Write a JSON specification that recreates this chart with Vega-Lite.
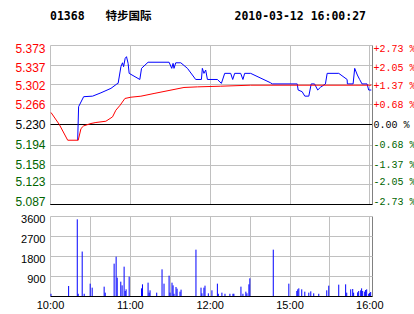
{
  "$schema": "https://vega.github.io/schema/vega-lite/v6.json",
  "padding": {"left": 14, "top": 10, "right": 0, "bottom": 0},
  "background": "white",
  "title": {
    "text": "01368\u00a0\u00a0\u00a0特步国际\u00a0\u00a0\u00a0\u00a0\u00a0\u00a0\u00a0\u00a0\u00a0\u00a0\u00a0\u00a02010-03-12\u00a016:00:27",
    "anchor": "start",
    "frame": "group",
    "font": "DejaVu Sans Mono, Noto Sans CJK SC",
    "fontSize": 11.5,
    "fontWeight": "bold",
    "color": "black",
    "offset": 20
  },
  "datasets": {
    "price": [
      {"m": 20.8, "p": 5.202}, {"m": 21.5, "p": 5.262}, {"m": 25.3, "p": 5.280}, {"m": 32, "p": 5.281},
      {"m": 38.3, "p": 5.287}, {"m": 45.8, "p": 5.295}, {"m": 50.3, "p": 5.303}, {"m": 51.2, "p": 5.304},
      {"m": 53.3, "p": 5.334}, {"m": 54.5, "p": 5.341}, {"m": 55.3, "p": 5.334}, {"m": 56.5, "p": 5.349},
      {"m": 57.5, "p": 5.352}, {"m": 58.7, "p": 5.340}, {"m": 59.5, "p": 5.322}, {"m": 67.5, "p": 5.311},
      {"m": 68.8, "p": 5.331}, {"m": 73.7, "p": 5.342}, {"m": 89.5, "p": 5.342}, {"m": 91.5, "p": 5.331},
      {"m": 92.5, "p": 5.340}, {"m": 93.2, "p": 5.331}, {"m": 94.5, "p": 5.341}, {"m": 98.3, "p": 5.341},
      {"m": 103.3, "p": 5.331}, {"m": 109.5, "p": 5.311}, {"m": 113.8, "p": 5.311}, {"m": 114.5, "p": 5.331},
      {"m": 115.7, "p": 5.322}, {"m": 117, "p": 5.328}, {"m": 118.3, "p": 5.311}, {"m": 125.8, "p": 5.311},
      {"m": 128.8, "p": 5.304}, {"m": 131.3, "p": 5.322}, {"m": 135.8, "p": 5.322}, {"m": 137.3, "p": 5.311},
      {"m": 138.8, "p": 5.322}, {"m": 143.3, "p": 5.322}, {"m": 145, "p": 5.311}, {"m": 146.3, "p": 5.322},
      {"m": 150.8, "p": 5.322}, {"m": 165.8, "p": 5.305}, {"m": 167, "p": 5.303}, {"m": 185.8, "p": 5.303},
      {"m": 186.5, "p": 5.292}, {"m": 189.5, "p": 5.289}, {"m": 191.5, "p": 5.281}, {"m": 194.5, "p": 5.281},
      {"m": 196.3, "p": 5.303}, {"m": 198.8, "p": 5.303}, {"m": 201.2, "p": 5.292}, {"m": 203.3, "p": 5.297},
      {"m": 207, "p": 5.303}, {"m": 208.3, "p": 5.322}, {"m": 217, "p": 5.322}, {"m": 223.3, "p": 5.311},
      {"m": 223.5, "p": 5.303}, {"m": 227.8, "p": 5.303}, {"m": 229, "p": 5.331}, {"m": 231, "p": 5.319},
      {"m": 232.7, "p": 5.311}, {"m": 234.5, "p": 5.303}, {"m": 238.3, "p": 5.303}, {"m": 239.5, "p": 5.292},
      {"m": 241.5, "p": 5.292}
    ],
    "avg": [
      {"m": 0.75, "a": 5.2516}, {"m": 7, "a": 5.230}, {"m": 13.3, "a": 5.2017}, {"m": 21.2, "a": 5.2017},
      {"m": 23.3, "a": 5.2228}, {"m": 25.3, "a": 5.2275}, {"m": 30.8, "a": 5.2318}, {"m": 34.5, "a": 5.2336},
      {"m": 42, "a": 5.2359}, {"m": 47, "a": 5.2437}, {"m": 49.5, "a": 5.2557}, {"m": 52.7, "a": 5.2647},
      {"m": 56.3, "a": 5.2768}, {"m": 60.8, "a": 5.2791}, {"m": 68.3, "a": 5.2809}, {"m": 78.2, "a": 5.2858},
      {"m": 93.2, "a": 5.293}, {"m": 100.7, "a": 5.2966}, {"m": 110.8, "a": 5.2977}, {"m": 128.3, "a": 5.2989},
      {"m": 150.8, "a": 5.3007}, {"m": 241.5, "a": 5.3007}
    ],
    "vol": [
      {"m": 0.75, "v": 100}, {"m": 14, "v": 450}, {"m": 20.5, "v": 3450}, {"m": 21.2, "v": 100},
      {"m": 24.2, "v": 2000}, {"m": 25.7, "v": 100}, {"m": 30.2, "v": 555}, {"m": 31.7, "v": 375},
      {"m": 40.7, "v": 420}, {"m": 41.5, "v": 150}, {"m": 48.2, "v": 1455}, {"m": 49.7, "v": 1770},
      {"m": 50.5, "v": 825}, {"m": 53.2, "v": 645}, {"m": 54.2, "v": 480}, {"m": 55.7, "v": 1320},
      {"m": 56.5, "v": 225}, {"m": 57.2, "v": 300}, {"m": 59.5, "v": 870}, {"m": 68.8, "v": 345},
      {"m": 69.5, "v": 525}, {"m": 73.7, "v": 600}, {"m": 74.5, "v": 150}, {"m": 75.2, "v": 255},
      {"m": 80.2, "v": 150}, {"m": 84.2, "v": 1200}, {"m": 85.7, "v": 555}, {"m": 89.5, "v": 915},
      {"m": 90.2, "v": 150}, {"m": 91.7, "v": 600}, {"m": 92.5, "v": 480}, {"m": 93.2, "v": 100},
      {"m": 94.7, "v": 405}, {"m": 95.5, "v": 330}, {"m": 97.7, "v": 195}, {"m": 98.5, "v": 285},
      {"m": 109.7, "v": 2085}, {"m": 113.5, "v": 375}, {"m": 114.2, "v": 120}, {"m": 115.7, "v": 375},
      {"m": 116.5, "v": 465}, {"m": 119, "v": 120}, {"m": 121.7, "v": 255}, {"m": 125.8, "v": 555},
      {"m": 126.5, "v": 100}, {"m": 129.2, "v": 150}, {"m": 131.5, "v": 100}, {"m": 135.2, "v": 100},
      {"m": 137.5, "v": 100}, {"m": 138.2, "v": 100}, {"m": 143.5, "v": 420}, {"m": 145, "v": 100},
      {"m": 147.2, "v": 195}, {"m": 148, "v": 120}, {"m": 149.5, "v": 525}, {"m": 150.2, "v": 795},
      {"m": 167.8, "v": 2085}, {"m": 179.5, "v": 555}, {"m": 185.5, "v": 225}, {"m": 186.2, "v": 300},
      {"m": 187, "v": 345}, {"m": 189.2, "v": 300}, {"m": 191.5, "v": 195}, {"m": 194.5, "v": 150},
      {"m": 196, "v": 210}, {"m": 198.2, "v": 120}, {"m": 202, "v": 100}, {"m": 208, "v": 255},
      {"m": 209.5, "v": 465}, {"m": 217, "v": 510}, {"m": 222.2, "v": 525}, {"m": 223, "v": 150},
      {"m": 226, "v": 300}, {"m": 227.5, "v": 315}, {"m": 228.2, "v": 150}, {"m": 231.2, "v": 165},
      {"m": 232, "v": 225}, {"m": 233.5, "v": 255}, {"m": 234.2, "v": 345}, {"m": 235, "v": 225},
      {"m": 236.5, "v": 195}, {"m": 237.2, "v": 270}, {"m": 238, "v": 300}, {"m": 239.5, "v": 100},
      {"m": 240.2, "v": 135}, {"m": 241, "v": 180}
    ]
  },
  "spacing": 6,
  "vconcat": [
    {
      "width": 322,
      "height": 159,
      "layer": [
        {
          "data": {"name": "price"},
          "mark": {"type": "line", "color": "#0000FF", "strokeWidth": 1},
          "encoding": {
            "x": {
              "field": "m", "type": "quantitative",
              "scale": {"domain": [0, 242], "nice": false, "zero": false},
              "axis": {
                "values": [0, 30, 60, 90, 120, 150, 180, 210, 240, 242],
                "labels": false, "ticks": false, "grid": true, "domain": true,
                "domainColor": "black", "domainWidth": 1,
                "gridColor": {"condition": {"test": "datum.value > 241", "value": "#808080"}, "value": "#C0C0C0"}
              }
            },
            "y": {
              "field": "p", "type": "quantitative",
              "scale": {"domain": [5.087, 5.373], "nice": false, "zero": false},
              "axis": {
                "orient": "left",
                "values": [5.087, 5.123, 5.158, 5.194, 5.23, 5.266, 5.302, 5.337, 5.373],
                "format": ".3f",
                "grid": true, "ticks": false, "domain": false,
                "labelPadding": 5, "labelFontSize": 12, "labelFont": "Liberation Sans",
                "gridColor": {"condition": {"test": "(datum.value > 5.229 && datum.value < 5.231) || datum.value < 5.09", "value": "black"}, "value": "#C0C0C0"},
                "labelColor": {"condition": [
                  {"test": "datum.value > 5.231", "value": "#FF0000"},
                  {"test": "datum.value < 5.229", "value": "#006400"}
                ], "value": "black"},
                "labelOffset": {"condition": [
                  {"test": "datum.value > 5.37", "value": 3},
                  {"test": "datum.value > 5.33", "value": 2},
                  {"test": "datum.value > 5.30", "value": 1},
                  {"test": "datum.value < 5.09", "value": -3},
                  {"test": "datum.value < 5.13", "value": -2}
                ], "value": 0}
              }
            }
          }
        },
        {
          "data": {"name": "avg"},
          "mark": {"type": "line", "color": "#FF0000", "strokeWidth": 1},
          "encoding": {
            "x": {"field": "m", "type": "quantitative"},
            "y": {
              "field": "a", "type": "quantitative",
              "scale": {"domain": [5.087, 5.373], "nice": false, "zero": false},
              "axis": {
                "orient": "right",
                "values": [5.087, 5.123, 5.158, 5.194, 5.23, 5.266, 5.302, 5.337, 5.373],
                "labelExpr": "datum.value > 5.37 ? '+2.73 %' : datum.value > 5.33 ? '+2.05 %' : datum.value > 5.30 ? '+1.37 %' : datum.value > 5.26 ? '+0.68 %' : datum.value > 5.22 ? '\u00a00.00 %' : datum.value > 5.19 ? '-0.68 %' : datum.value > 5.15 ? '-1.37 %' : datum.value > 5.12 ? '-2.05 %' : '-2.73 %'",
                "grid": false, "ticks": false, "domain": true, "domainColor": "#808080",
                "labelPadding": 1, "labelFontSize": 10, "labelFont": "Liberation Mono",
                "labelColor": {"condition": [
                  {"test": "datum.value > 5.231", "value": "#FF0000"},
                  {"test": "datum.value < 5.229", "value": "#006400"}
                ], "value": "black"},
                "labelOffset": {"condition": [
                  {"test": "datum.value > 5.37", "value": 3},
                  {"test": "datum.value > 5.33", "value": 2},
                  {"test": "datum.value > 5.30", "value": 1},
                  {"test": "datum.value < 5.09", "value": -3},
                  {"test": "datum.value < 5.13", "value": -2}
                ], "value": 0}
              }
            }
          }
        }
      ],
      "resolve": {"scale": {"y": "independent"}}
    },
    {
      "width": 322,
      "height": 80,
      "data": {"name": "vol"},
      "mark": {"type": "rule", "color": "#0000FF", "strokeWidth": 1},
      "encoding": {
        "x": {
          "field": "m", "type": "quantitative",
          "scale": {"domain": [0, 242], "nice": false, "zero": false},
          "axis": {
            "values": [0, 30, 60, 90, 120, 150, 180, 210, 240, 242],
            "labelExpr": "datum.value == 0 ? '10:00' : datum.value == 60 ? '11:00' : datum.value == 120 ? '12:00' : datum.value == 180 ? '15:00' : datum.value == 240 ? '16:00' : ''",
            "labelFlush": false, "labelOverlap": false, "labelBound": false,
            "ticks": false, "grid": true, "domain": true, "domainColor": "black",
            "labelPadding": 3, "labelFontSize": 11, "labelFont": "Liberation Sans", "labelColor": "black",
            "gridColor": {"condition": {"test": "datum.value > 241", "value": "#808080"}, "value": "#C0C0C0"}
          }
        },
        "y": {
          "field": "v", "type": "quantitative",
          "scale": {"domain": [0, 3600], "nice": false},
          "axis": {
            "values": [900, 1800, 2700, 3600],
            "format": "d",
            "grid": true, "ticks": false, "domain": false, "gridColor": "#C0C0C0",
            "labelPadding": 5, "labelFontSize": 11, "labelFont": "Liberation Sans", "labelColor": "black",
            "labelOffset": 3
          }
        },
        "y2": {"datum": 0}
      }
    }
  ],
  "config": {
    "view": {"stroke": null},
    "axis": {"title": null}
  }
}
